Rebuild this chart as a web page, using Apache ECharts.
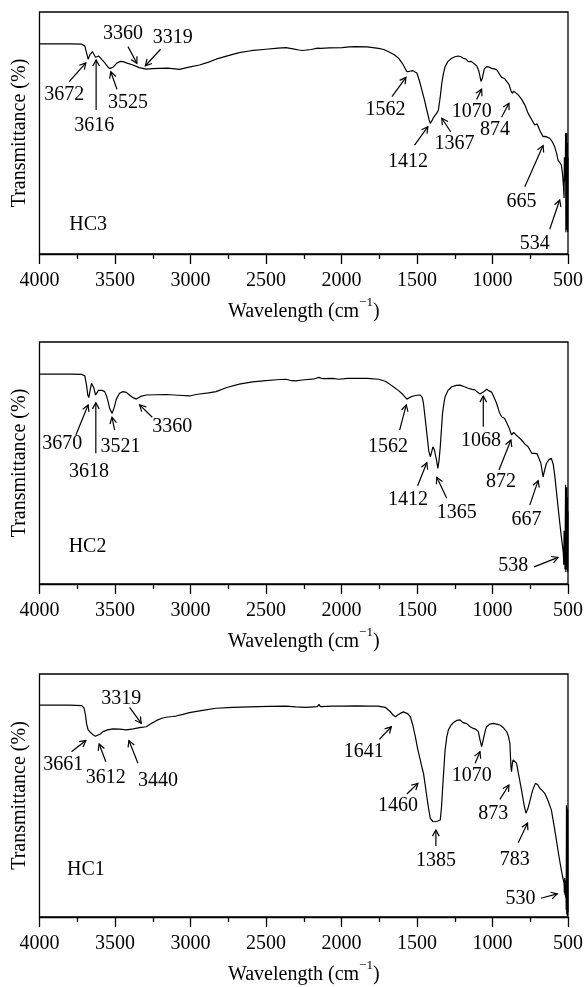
<!DOCTYPE html>
<html>
<head>
<meta charset="utf-8">
<script src="https://cdn.jsdelivr.net/npm/echarts@6/dist/echarts.min.js"></script>
<style>
  html, body { margin: 0; padding: 0; background: #fff; }
  #chart { width: 586px; height: 987px; }
</style>
</head>
<body>
<div id="chart"></div>
<script>
// FT-IR spectra of three hydrocalumite samples (HC3, HC2, HC1)
// wavenumber in cm^-1, transmittance in arbitrary % units

const sampleNames = ['HC3', 'HC2', 'HC1'];
const xTicks = [4000, 3500, 3000, 2500, 2000, 1500, 1000, 500];

const hc3Wn = [4000,3800,3720,3700,3690,3678,3665,3649,3638,3629,3618,3607,3590,3570,3550,3535,3524,3510,3490,3465,3447,3420,3381,3340,3293,3250,3205,3150,3073,3010,2941,2880,2831,2750,2677,2600,2501,2420,2369,2330,2281,2260,2200,2160,2149,2140,2080,1996,1950,1907,1830,1754,1720,1688,1650,1622,1595,1567,1550,1529,1501,1485,1468,1450,1435,1420,1412,1400,1390,1379,1368,1358,1345,1336,1325,1314,1295,1270,1245,1226,1210,1193,1175,1160,1140,1127,1105,1090,1076,1068,1054,1039,1020,1006,990,973,955,940,920,907,890,878,869,860,848,830,808,785,764,740,720,705,698,685,665,650,635,621,605,588,575,566,555,544,536,530,526,524,522,520,518,516,514,512,510,508,506,504,502,500];
const hc3T  = [86.8,86.8,86.7,86.0,83.5,80.5,82.5,83.6,82.8,81.3,81.5,81.8,80.5,79.2,77.5,76.6,76.3,77.3,78.8,79.6,79.5,78.9,78.1,77.0,76.4,76.6,76.7,76.8,76.3,77.2,78.1,79.3,80.5,82.0,83.2,84.0,84.6,85.1,85.3,84.9,84.3,84.1,84.5,85.1,85.7,85.0,85.2,85.3,85.6,85.7,85.6,85.0,84.5,83.6,82.3,80.9,78.6,75.3,75.5,75.8,74.8,71.8,67.8,63.5,59.5,55.5,54.0,55.2,56.5,57.4,58.3,59.5,65.5,70.5,74.5,77.4,79.6,80.9,81.6,81.8,81.5,80.9,80.5,79.5,79.6,79.3,77.8,75.5,71.3,72.5,76.5,77.4,77.2,76.7,76.5,76.2,74.5,73.0,72.5,71.8,70.0,67.5,66.4,67.3,67.6,65.8,64.0,61.5,58.1,55.5,53.3,53.8,53.0,50.8,48.5,48.6,48.2,47.8,46.5,44.3,41.5,38.8,37.8,36.8,33.0,28.0,23.1,40.0,32.0,36.0,30.0,50.0,9.0,48.0,10.0,50.0,12.0,46.0,9.0,40.0];

const hc2Wn = [4000,3800,3720,3700,3688,3680,3673,3665,3655,3649,3640,3629,3620,3610,3601,3585,3568,3555,3546,3535,3519,3505,3491,3470,3447,3425,3403,3380,3359,3330,3293,3230,3161,3080,3007,2970,2941,2880,2831,2760,2677,2590,2501,2430,2369,2330,2303,2260,2180,2149,2130,2060,2017,1960,1907,1830,1754,1710,1688,1650,1622,1595,1567,1545,1523,1500,1478,1465,1457,1445,1435,1422,1412,1403,1395,1386,1379,1370,1362,1354,1346,1338,1331,1322,1314,1295,1270,1240,1215,1190,1160,1135,1116,1100,1083,1072,1061,1050,1039,1022,1006,990,973,955,940,920,907,890,874,860,848,830,808,785,764,740,720,705,693,680,665,655,643,625,610,598,588,577,566,555,544,536,531,528,526,524,522,520,518,516,514,512,510,508,506,504,502,500];
const hc2T  = [86.7,86.7,86.6,86.0,82.0,78.0,77.1,80.0,83.0,83.2,81.0,78.1,79.0,80.0,80.2,80.0,79.5,77.5,75.5,72.5,70.5,73.0,76.4,78.8,79.5,79.2,78.0,77.0,76.4,77.5,78.1,78.2,78.3,78.0,77.7,78.2,78.5,79.0,79.5,81.2,82.6,83.5,84.0,84.4,84.6,84.0,83.9,84.3,84.8,85.4,84.9,85.0,84.6,85.0,85.0,85.0,84.6,83.8,82.9,81.2,79.9,78.4,76.4,77.2,77.7,78.0,78.1,77.0,74.5,68.0,62.3,55.0,52.6,54.5,56.7,55.6,55.3,51.0,47.8,51.0,56.7,64.0,70.5,74.5,77.4,80.0,81.5,82.1,82.2,81.6,80.9,80.4,80.2,79.3,78.5,79.3,79.3,80.0,80.5,79.8,79.3,77.2,74.7,71.0,69.1,68.5,68.0,64.5,61.6,62.6,62.3,60.8,59.5,57.8,56.7,54.0,54.0,53.8,54.0,50.0,44.3,47.0,49.8,51.5,51.9,49.5,45.0,38.5,31.9,25.5,19.5,15.5,12.7,8.0,22.0,10.0,20.0,6.0,25.0,41.0,5.0,38.0,6.0,40.0,8.0,36.0,5.0,30.0];

const hc1Wn = [4000,3800,3720,3705,3695,3688,3678,3660,3645,3630,3619,3600,3579,3550,3513,3470,3425,3380,3337,3293,3260,3227,3190,3161,3120,3095,3050,3007,2920,2831,2720,2611,2480,2369,2303,2237,2160,2149,2140,2060,1996,1900,1820,1760,1710,1690,1676,1660,1643,1625,1610,1590,1577,1560,1544,1528,1511,1495,1478,1465,1457,1446,1435,1423,1412,1395,1379,1362,1346,1338,1331,1322,1314,1303,1292,1275,1259,1237,1215,1195,1171,1150,1127,1110,1094,1083,1072,1063,1054,1045,1039,1017,995,973,951,930,907,895,885,878,874,868,863,852,841,825,808,792,779,766,753,735,716,700,687,670,654,630,610,595,577,560,544,534,526,524,522,520,518,516,514,512,510,508,506,504,502,500];
const hc1T  = [87.2,87.2,87.0,86.0,83.0,79.5,77.0,75.8,75.0,74.4,74.0,75.2,76.3,77.0,77.4,77.3,77.0,77.4,77.9,78.3,79.6,80.8,81.8,82.2,82.5,82.7,83.4,84.1,85.0,85.9,86.3,86.5,86.7,86.8,86.5,86.3,86.6,87.5,86.6,86.8,86.8,86.9,86.8,86.8,86.3,85.2,84.5,83.2,82.4,83.2,83.8,84.4,84.4,83.6,82.4,79.0,74.2,69.0,64.6,61.0,59.1,54.5,49.5,44.5,40.6,39.3,39.2,39.5,39.9,45.0,52.3,61.0,68.7,74.0,77.0,78.9,80.0,80.9,81.1,80.0,79.6,78.4,77.6,77.2,76.3,73.0,70.1,72.5,75.0,77.3,78.3,79.4,79.7,79.4,79.0,78.0,76.3,74.5,71.5,62.0,59.8,63.5,64.6,64.0,63.3,58.0,52.3,46.5,42.7,44.5,47.6,52.0,55.0,54.4,53.0,52.0,50.9,47.5,44.0,38.5,31.7,25.0,19.3,16.0,13.9,10.0,16.0,9.0,15.0,8.0,14.0,3.0,46.0,1.0,45.0,0.5,44.0,2.0];

// band assignments written next to the arrows
const hc3Peaks = ['3672', '3616', '3525', '3360', '3319', '1562', '1412', '1367', '1070', '874', '665', '534'];
const hc2Peaks = ['3670', '3618', '3521', '3360', '1562', '1412', '1365', '1068', '872', '667', '538'];
const hc1Peaks = ['3319', '3661', '3612', '3440', '1641', '1460', '1385', '1070', '873', '783', '530'];

// callout placement in axis units: [tipWn, tipT, tailWn, tailT, textWn, textT]
const hc3Callouts = [
  [3693, 79.0, 3803, 71.2, 3836, 65.7],
  [3625, 80.2, 3625, 59.5, 3638, 52.9],
  [3528, 75.3, 3487, 68.1, 3414, 62.3],
  [3355, 78.8, 3414, 85.7, 3447, 91.2],
  [3299, 77.8, 3198, 84.6, 3117, 89.5],
  [1573, 73.0, 1666, 65.0, 1709, 59.5],
  [1428, 52.6, 1516, 45.0, 1560, 38.1],
  [1336, 56.1, 1277, 50.5, 1252, 45.7],
  [1072, 68.1, 1105, 63.9, 1138, 58.8],
  [891, 62.3, 940, 56.5, 984, 51.5],
  [665, 44.8, 786, 27.8, 808, 21.6],
  [555, 22.3, 621, 10.2, 720, 4.4]
];
const hc2Callouts = [
  [3678, 74.0, 3759, 61.6, 3850, 57.9],
  [3627, 74.9, 3627, 54.0, 3673, 46.4],
  [3520, 68.9, 3502, 63.6, 3464, 56.7],
  [3337, 74.0, 3253, 68.9, 3121, 65.0],
  [1571, 74.0, 1615, 63.6, 1692, 56.7],
  [1435, 50.1, 1496, 40.6, 1560, 34.7],
  [1369, 44.1, 1303, 35.4, 1237, 29.5],
  [1061, 77.7, 1061, 65.0, 1076, 59.2],
  [878, 59.5, 957, 47.1, 944, 42.3],
  [698, 42.7, 753, 32.6, 775, 26.7],
  [566, 11.0, 724, 7.1, 863, 7.4]
];
const hc1Callouts = [
  [3326, 79.7, 3403, 86.3, 3458, 90.0],
  [3693, 72.6, 3788, 68.0, 3843, 62.6],
  [3605, 71.2, 3561, 63.9, 3561, 57.1],
  [3408, 72.6, 3348, 63.3, 3216, 56.1],
  [1670, 78.3, 1749, 73.1, 1852, 68.0],
  [1494, 55.0, 1567, 50.6, 1626, 45.7],
  [1375, 35.8, 1375, 29.2, 1375, 23.2],
  [1083, 68.0, 1115, 63.3, 1138, 58.0],
  [891, 54.3, 951, 48.4, 995, 42.4],
  [768, 38.6, 830, 30.6, 852, 23.5],
  [571, 9.5, 680, 7.7, 815, 7.7]
];
// where each sample tag sits: [wn, T]
const tagPos = [[3678, 12.0], [3682, 15.4], [3693, 19.6]];

const FONT = 'Liberation Serif';
const FS = 20;

const panels = [
  { wn: hc3Wn, t: hc3T, peaks: hc3Peaks, callouts: hc3Callouts },
  { wn: hc2Wn, t: hc2T, peaks: hc2Peaks, callouts: hc2Callouts },
  { wn: hc1Wn, t: hc1T, peaks: hc1Peaks, callouts: hc1Callouts }
];
const gridBoxes = [
  { top: 12, height: 242 },
  { top: 342, height: 242 },
  { top: 674, height: 243 }
];

function calloutRenderer(peaks) {
  return function (params, api) {
    const tip = api.coord([api.value(0), api.value(1)]);
    const tail = api.coord([api.value(2), api.value(3)]);
    const txt = api.coord([api.value(4), api.value(5)]);
    const ang = Math.atan2(tip[1] - tail[1], tip[0] - tail[0]);
    const h = 7, spread = 0.5;
    const p1 = [tip[0] - h * Math.cos(ang - spread), tip[1] - h * Math.sin(ang - spread)];
    const p2 = [tip[0] - h * Math.cos(ang + spread), tip[1] - h * Math.sin(ang + spread)];
    return {
      type: 'group',
      children: [
        { type: 'line', shape: { x1: tail[0], y1: tail[1], x2: tip[0], y2: tip[1] },
          style: { stroke: '#000', lineWidth: 1.2 } },
        { type: 'polyline', shape: { points: [p1, tip, p2] },
          style: { stroke: '#000', fill: null, lineWidth: 1.2 } },
        { type: 'text', x: txt[0], y: txt[1],
          style: { text: peaks[params.dataIndex], fontSize: FS, fontFamily: FONT, fill: '#000',
                   align: 'center', verticalAlign: 'middle' } }
      ]
    };
  };
}

function tagRenderer(name) {
  return function (params, api) {
    const p = api.coord([api.value(0), api.value(1)]);
    return { type: 'text', x: p[0], y: p[1],
      style: { text: name, fontSize: FS, fontFamily: FONT, fill: '#000', align: 'center', verticalAlign: 'middle' } };
  };
}

const grid = [], xAxis = [], yAxis = [], series = [];
panels.forEach((p, i) => {
  grid.push({
    left: 39.5, right: 15.5, top: gridBoxes[i].top, height: gridBoxes[i].height,
    show: true, borderColor: '#000', borderWidth: 1.3, backgroundColor: 'transparent'
  });
  xAxis.push({
    gridIndex: i, type: 'value', inverse: true,
    min: xTicks[xTicks.length - 1], max: xTicks[0], interval: 500,
    axisLine: { show: true, lineStyle: { color: '#000', width: 1.3 } },
    axisTick: { show: true, inside: false, length: 10, lineStyle: { color: '#000', width: 1.3 } },
    minorTick: { show: true, splitNumber: 2, length: 5, lineStyle: { color: '#000', width: 1.3 } },
    splitLine: { show: false },
    axisLabel: { color: '#000', fontFamily: FONT, fontSize: FS, margin: 17, showMinLabel: true, showMaxLabel: true,
                 formatter: v => String(v) },
    name: '{a|Wavelength (cm}{sup|\u22121}{a|)}',
    nameLocation: 'middle', nameGap: 42,
    nameTextStyle: {
      rich: {
        a: { fontFamily: FONT, fontSize: FS, color: '#000', lineHeight: 32, verticalAlign: 'middle' },
        sup: { fontFamily: FONT, fontSize: 13, color: '#000', lineHeight: 14, verticalAlign: 'top' }
      }
    }
  });
  yAxis.push({
    gridIndex: i, type: 'value', min: 0, max: 100,
    axisLine: { show: false }, axisTick: { show: false }, axisLabel: { show: false },
    splitLine: { show: false },
    name: 'Transmittance (%)', nameLocation: 'middle', nameGap: 10,
    nameTextStyle: { fontFamily: FONT, fontSize: FS, color: '#000' }
  });
  series.push({
    type: 'line', xAxisIndex: i, yAxisIndex: i,
    data: p.wn.map((w, k) => [w, p.t[k]]),
    showSymbol: false, symbol: 'none',
    lineStyle: { color: '#000', width: 1.2 },
    animation: false, silent: true
  });
  series.push({
    type: 'custom', xAxisIndex: i, yAxisIndex: i,
    data: p.callouts, renderItem: calloutRenderer(p.peaks),
    clip: false, animation: false, silent: true, z: 5
  });
  series.push({
    type: 'custom', xAxisIndex: i, yAxisIndex: i,
    data: [tagPos[i]], renderItem: tagRenderer(sampleNames[i]),
    clip: false, animation: false, silent: true, z: 5
  });
});

const chart = echarts.init(document.getElementById('chart'), null, { renderer: 'canvas' });
chart.setOption({ backgroundColor: '#fff', animation: false, grid, xAxis, yAxis, series });
</script>
</body>
</html>
